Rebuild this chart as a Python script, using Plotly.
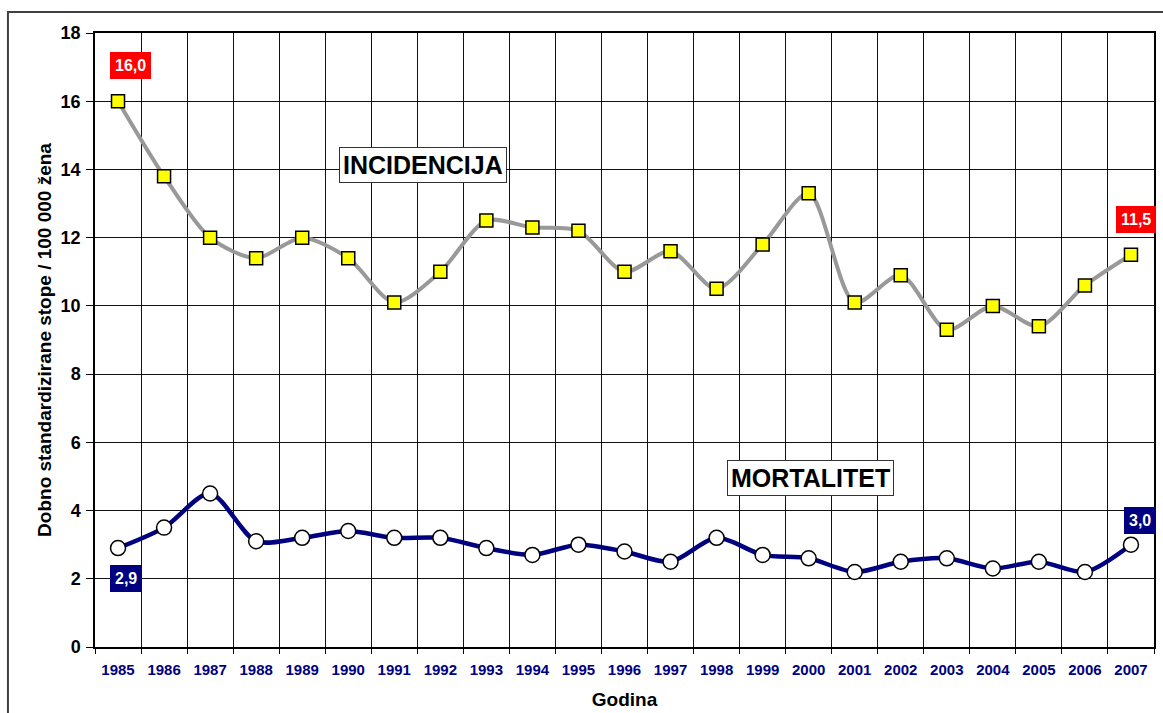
import plotly.graph_objects as go

years = [str(y) for y in range(1985, 2008)]
incidencija = [16.0, 13.8, 12.0, 11.4, 12.0, 11.4, 10.1, 11.0, 12.5, 12.3, 12.2, 11.0,
               11.6, 10.5, 11.8, 13.3, 10.1, 10.9, 9.3, 10.0, 9.4, 10.6, 11.5]
mortalitet = [2.9, 3.5, 4.5, 3.1, 3.2, 3.4, 3.2, 3.2, 2.9, 2.7, 3.0, 2.8,
              2.5, 3.2, 2.7, 2.6, 2.2, 2.5, 2.6, 2.3, 2.5, 2.2, 3.0]
y_ticks = [0, 2, 4, 6, 8, 10, 12, 14, 16, 18]

FONT = "Liberation Sans, Arial, sans-serif"
NAVY = "#000080"

fig = go.Figure()
fig.add_trace(go.Scatter(
    x=years, y=incidencija, mode="lines+markers",
    line=dict(color="#999999", width=4, shape="spline", smoothing=0.8),
    marker=dict(symbol="square", size=13, color="#FFFF00",
                line=dict(color="#000000", width=1.5)),
    showlegend=False, cliponaxis=False, hoverinfo="x+y"))
fig.add_trace(go.Scatter(
    x=years, y=mortalitet, mode="lines+markers",
    line=dict(color=NAVY, width=4.5, shape="spline", smoothing=0.8),
    marker=dict(symbol="circle", size=15, color="#FFFFFF",
                line=dict(color="#000000", width=1.5)),
    showlegend=False, cliponaxis=False, hoverinfo="x+y"))

def value_label(idx, y, text, bg, xs, ys):
    fig.add_annotation(x=idx, y=y, xref="x", yref="y", text="<b>%s</b>" % text,
                       showarrow=False, xshift=xs, yshift=ys,
                       xanchor="center", yanchor="middle",
                       font=dict(family=FONT, size=16, color="white"),
                       bgcolor=bg, borderpad=5, borderwidth=0)

last = len(years) - 1
value_label(0, incidencija[0], "16,0", "#FF0000", 12, 36)
value_label(last, incidencija[last], "11,5", "#FF0000", 5, 35)
value_label(0, mortalitet[0], "2,9", NAVY, 8, -30)
value_label(last, mortalitet[last], "3,0", NAVY, 9, 24)

for txt, px, py in [("INCIDENCIJA", 0.3097, 0.785), ("MORTALITET", 0.676, 0.275)]:
    fig.add_annotation(x=px, y=py, xref="paper", yref="paper",
                       xanchor="center", yanchor="middle",
                       text="<b>%s</b>" % txt, showarrow=False,
                       font=dict(family=FONT, size=25, color="black"),
                       bgcolor="white", bordercolor="#333333", borderwidth=1, borderpad=3)

# outer chart border
fig.add_shape(type="rect", xref="paper", yref="paper",
              x0=-0.0822, x1=1.02, y0=-0.13, y1=1.0342,
              line=dict(color="#404040", width=2), layer="below")

fig.update_layout(
    width=1163, height=713,
    margin=dict(l=95, r=9, t=33, b=66, autoexpand=False),
    paper_bgcolor="white", plot_bgcolor="white",
    font=dict(family=FONT, color="black"),
    xaxis=dict(type="category", tickson="boundaries", ticks="outside", ticklen=5,
               tickcolor="black", showgrid=True, gridcolor="#111111", gridwidth=1,
               showline=True, linecolor="black", linewidth=1.5, mirror=True,
               ticklabelstandoff=8, automargin=False,
               tickfont=dict(family=FONT, size=15, color=NAVY, weight="bold"),
               title=dict(text="<b>Godina</b>", font=dict(family=FONT, size=19, color="black"),
                          standoff=16),
               range=[-0.5, len(years) - 0.5]),
    yaxis=dict(range=[0, 18], tickvals=y_ticks, ticks="outside", ticklen=7,
               tickcolor="black", showgrid=True, gridcolor="#111111", gridwidth=1,
               showline=True, linecolor="black", linewidth=1.5, mirror=True,
               zeroline=False, ticklabelstandoff=2, automargin=False,
               tickfont=dict(family=FONT, size=18, color="black", weight="bold"),
               title=dict(text="<b>Dobno standardizirane stope / 100 000 žena</b>",
                          font=dict(family=FONT, size=19, color="black"), standoff=4)),
)

fig.write_html("out.html", config={"displayModeBar": False},
               post_script="document.body.style.margin='0';")
